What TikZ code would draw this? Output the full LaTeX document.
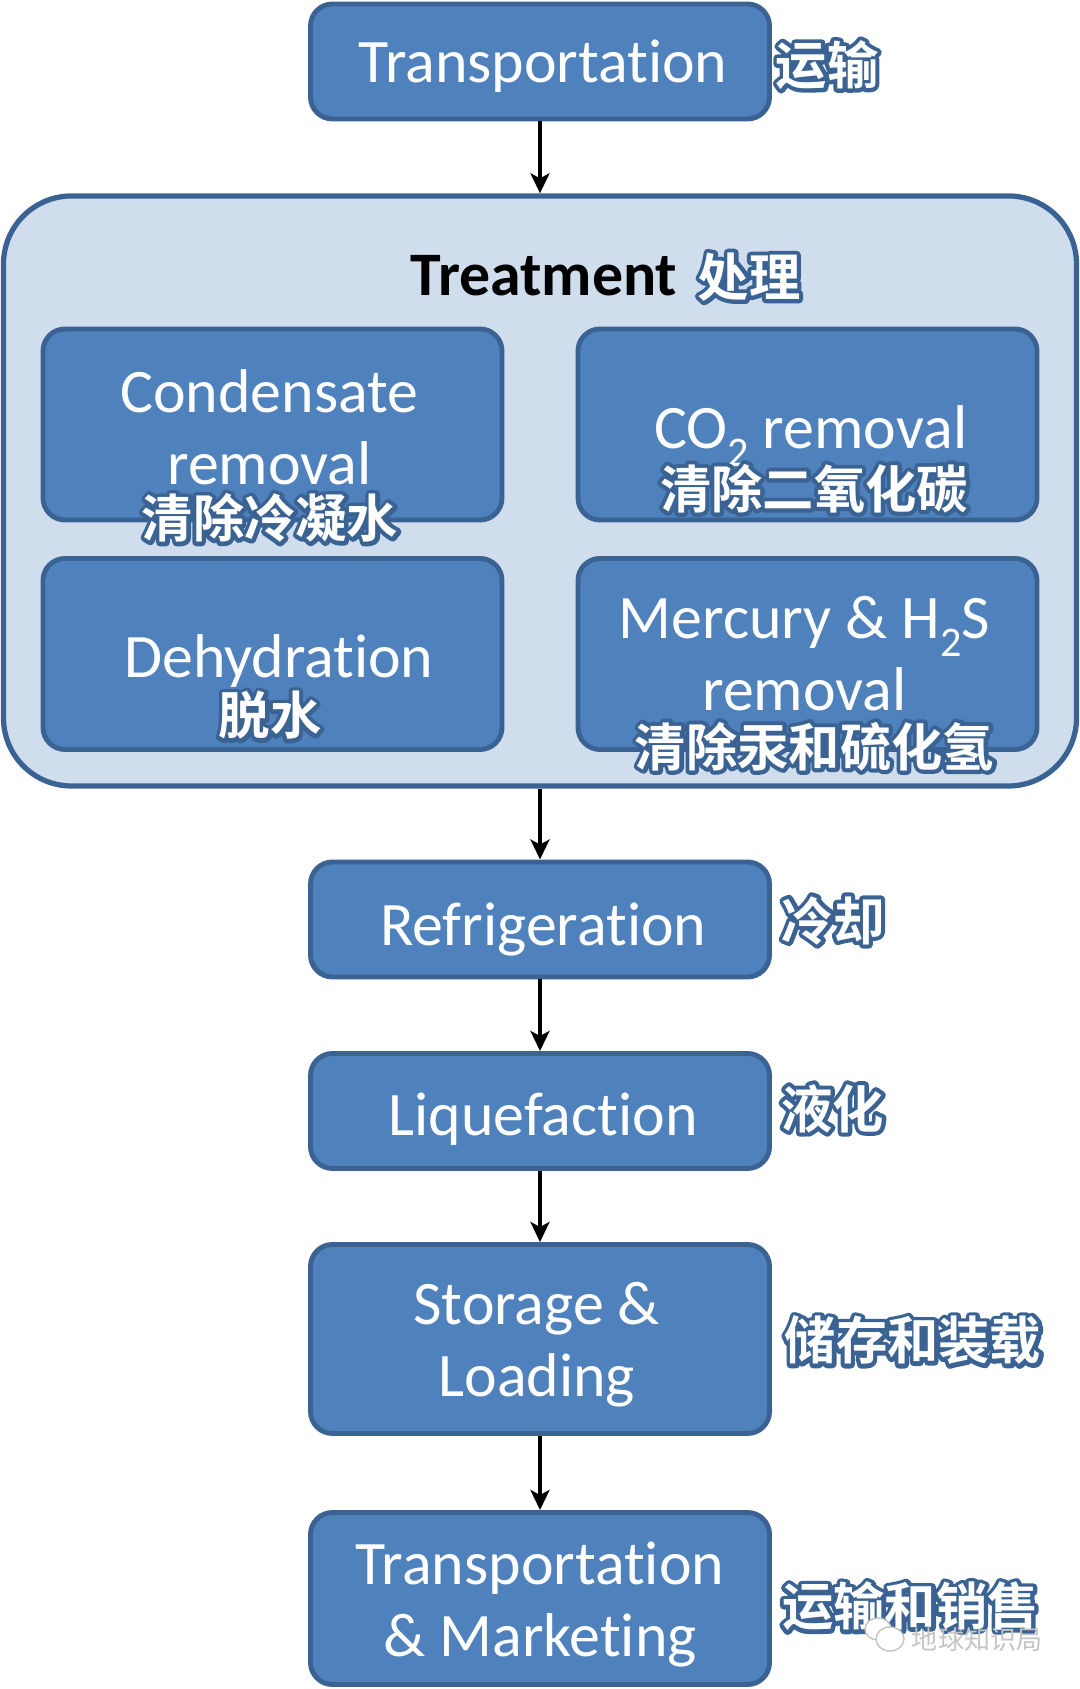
\documentclass[tikz,border=0pt]{standalone}
\usepackage{fontspec}
\setmainfont{Carlito}[RawFeature=-liga]
\newfontfamily\cjk{Noto Sans CJK SC}[BoldFont={* Bold}]
\usetikzlibrary{arrows.meta,shapes.geometric}
\definecolor{boxblue}{HTML}{4F81BD}
\definecolor{boxline}{HTML}{3A6393}
\definecolor{paleblue}{HTML}{D0DDED}
\definecolor{wmgray}{HTML}{C4C4C4}
\newcommand{\cnlabel}[1]{\leavevmode\rlap{\special{pdf:code q 1 Tr 2.3 w 1 j 1 J 0.227 0.388 0.576 RG}#1\special{pdf:code Q}}\textcolor{white}{#1}}
\newcommand{\lowtwo}{\raisebox{-.6ex}{\fontsize{12}{12}\selectfont 2}}
\newcommand{\topgap}[1]{\rule{0pt}{#1pt}}
\newcommand{\sidegap}{\hspace*{1.8pt}}
\tikzset{
  stagebox/.style={draw=boxline,fill=boxblue,line width=1.4pt,rounded corners=0.22cm,
    minimum width=4.59cm,text=white,align=center,inner sep=0pt,
    font=\fontsize{17.6}{20.5}\selectfont},
  cntext/.style={inner sep=0pt,font=\cjk\bfseries\fontsize{14.6}{16}\selectfont},
  flow/.style={line width=1.3pt,-{Stealth[length=0.2cm,width=0.19cm,inset=0.05cm]}}
}
\begin{document}
\begin{tikzpicture}
    \useasboundingbox (0,0) rectangle (10.8,16.89);
    \node(treatment) at (5.40,11.98) [draw=boxline,fill=paleblue,line width=1.5pt,rounded corners=0.68cm,
      minimum width=10.73cm,minimum height=5.90cm] {};
    \node(treatmenttitle) at (5.44,14.13) [inner sep=0pt,font=\bfseries\fontsize{17.6}{20}\selectfont] {Treatment};
    \node(treatmentcn) at (7.49,14.12) [cntext] {\cnlabel{处理}};

    % top of the chain
    \node(transport) at (5.40,16.275) [stagebox,minimum height=1.15cm] {\sidegap\topgap{15}Transportation};
    \node(transportcn) at (8.27,16.24) [cntext] {\cnlabel{运输}};

    % four steps inside treatment
    \node(condensate) at (2.725,12.645) [stagebox,minimum height=1.91cm] {\topgap{13.8}Condensate\sidegap\\removal\sidegap};
    \node(co2) at (8.075,12.645) [stagebox,minimum height=1.91cm] {\sidegap\topgap{18.8}CO\lowtwo{} removal};
    \node(dehydration) at (2.725,10.35) [stagebox,minimum height=1.91cm] {\sidegap\sidegap\topgap{16.2}Dehydration};
    \node(mercury) at (8.075,10.35) [stagebox,minimum height=1.91cm] {Mercury \& H\lowtwo{}S\sidegap\\removal\sidegap};
    \node(condensatecn) at (2.70,11.71) [cntext] {\cnlabel{清除冷凝水}};
    \node(co2cn) at (8.14,12.005) [cntext] {\cnlabel{清除二氧化碳}};
    \node(dehydrationcn) at (2.70,9.735) [cntext] {\cnlabel{脱水}};
    \node(mercurycn) at (8.145,9.425) [cntext] {\cnlabel{清除汞和硫化氢}};

    % rest of the chain
    \node(refrigeration) at (5.40,7.695) [stagebox,minimum height=1.15cm] {\sidegap\topgap{17.6}Refrigeration};
    \node(refrigerationcn) at (8.33,7.685) [cntext] {\cnlabel{冷却}};
    \node(liquefaction) at (5.40,5.78) [stagebox,minimum height=1.15cm] {\sidegap\topgap{16.7}Liquefaction};
    \node(liquefactioncn) at (8.325,5.805) [cntext] {\cnlabel{液化}};
    \node(storage) at (5.40,3.50) [stagebox,minimum height=1.89cm] {\topgap{15.4}Storage \&\sidegap\\Loading\sidegap};
    \node(storagecn) at (9.13,3.485) [cntext] {\cnlabel{储存和装载}};
    \node(marketing) at (5.40,0.905) [stagebox,minimum height=1.72cm] {\topgap{15.6}Transportation\\\& Marketing};
    \node(marketingcn) at (9.105,0.825) [cntext] {\cnlabel{运输和销售}};

    \draw[flow] (transport) -- (treatment);
    \draw[flow] (treatment) -- (refrigeration);
    \draw[flow] (refrigeration) -- (liquefaction);
    \draw[flow] (liquefaction) -- (storage);
    \draw[flow] (storage) -- (marketing);

    % watermark
    \node(wmleft) at (8.78,0.60) [draw=wmgray,fill=white,ellipse,inner sep=0pt,minimum width=0.26cm,minimum height=0.22cm] {};
    \node(wmright) at (8.90,0.50) [draw=wmgray,fill=white,ellipse,inner sep=0pt,minimum width=0.28cm,minimum height=0.24cm] {};
    \node(wmtext) at (9.77,0.49) [inner sep=0pt,text=wmgray,font=\cjk\fontsize{7.4}{9}\selectfont] {地球知识局};
\end{tikzpicture}
\end{document}
